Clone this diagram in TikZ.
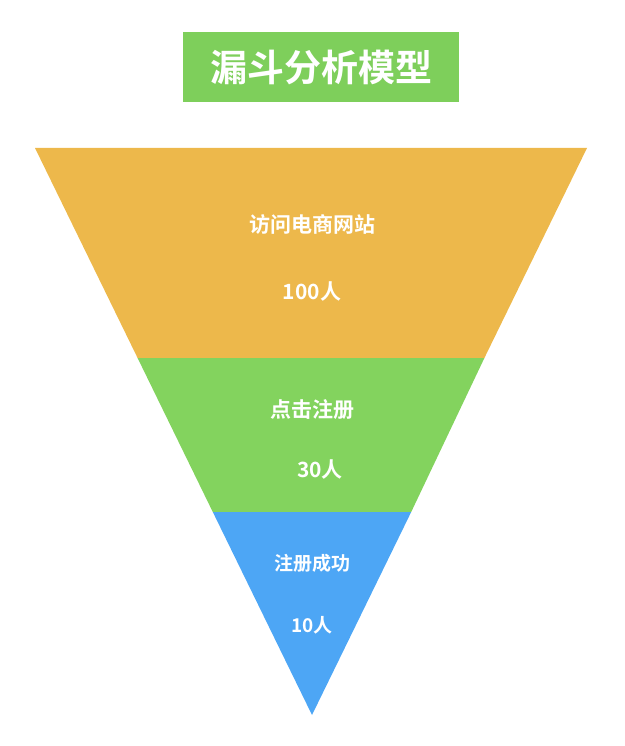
\documentclass[tikz,border=0pt]{standalone}
\usepackage{fontspec}
\newfontfamily\cjk{Noto Sans CJK SC}[BoldFont={Noto Sans CJK SC Bold}]
\definecolor{cor}{HTML}{EDB84B}
\definecolor{cgr}{HTML}{83D35E}
\definecolor{cbl}{HTML}{4DA6F5}
\definecolor{ctt}{HTML}{7ECF5B}
\begin{document}
\begin{tikzpicture}[x=1pt,y=-1pt,
  lbl/.style={text=white,font=\cjk\bfseries\fontsize{21}{24}\selectfont},
  slbl/.style={text=white,font=\cjk\bfseries\fontsize{19}{22}\selectfont}]
\useasboundingbox (0,0) rectangle (624,746);
\fill[cor] (35,148) -- (587,148) -- (484.4,358) -- (137.6,358) -- cycle;
\fill[cgr] (137.6,358) -- (484.4,358) -- (411.2,512) -- (212.8,512) -- cycle;
\fill[cbl] (212.8,512) -- (411.2,512) -- (312,715) -- cycle;
\node[fill=ctt,text=white,minimum width=276pt,minimum height=70pt,font=\cjk\bfseries\fontsize{37}{40}\selectfont] (t) at (321,67) {漏斗分析模型};
\node[lbl] (a1) at (312,225) {访问电商网站};
\node[lbl] (a2) at (312,292) {100人};
\node[lbl] (b1) at (312,410) {点击注册};
\node[lbl] (b2) at (320,470) {30人};
\node[slbl] (c1) at (312,563) {注册成功};
\node[slbl] (c2) at (312,625) {10人};
\end{tikzpicture}
\end{document}
